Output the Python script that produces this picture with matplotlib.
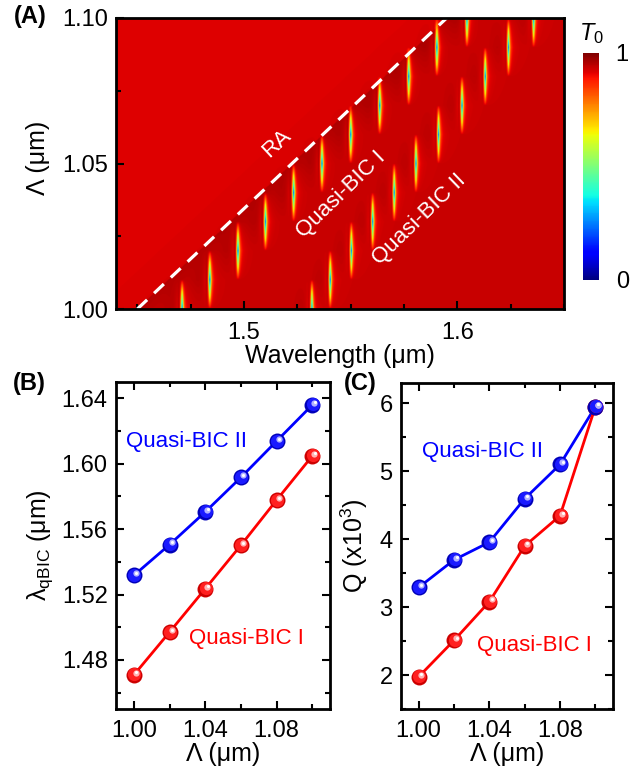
import numpy as np
import matplotlib
matplotlib.use("Agg")
import matplotlib.pyplot as plt
from matplotlib.ticker import MultipleLocator, FormatStrFormatter
from matplotlib.transforms import offset_copy

plt.rcParams['font.family'] = ['Liberation Sans', 'DejaVu Sans']
plt.rcParams['mathtext.fontset'] = 'custom'
plt.rcParams['mathtext.rm'] = 'Liberation Sans'
plt.rcParams['mathtext.it'] = 'Liberation Sans:italic'
plt.rcParams['mathtext.bf'] = 'Liberation Sans:bold'

# ---------------- data ----------------
# Panel A: resonance positions (one row per period)
map_period = [1.00, 1.01, 1.02, 1.03, 1.04, 1.05, 1.06, 1.07, 1.08, 1.09, 1.10]
map_qbic1 = [1.4708, 1.4838, 1.4970, 1.5099, 1.5231, 1.5364, 1.5499, 1.5635, 1.5771, 1.5903, 1.6044]
map_qbic2 = [1.5317, 1.5403, 1.5502, 1.5602, 1.5703, 1.5805, 1.5911, 1.6021, 1.6130, 1.6239, 1.6357]
ra_index = 1.45            # Rayleigh anomaly: lambda = n * period
ra_period = [1.00, 1.10]

# Panel B / C
period = [1.00, 1.02, 1.04, 1.06, 1.08, 1.10]
lam_qbic1 = [1.4708, 1.4970, 1.5235, 1.5501, 1.5777, 1.6047]
lam_qbic2 = [1.5317, 1.5505, 1.5705, 1.5916, 1.6138, 1.6359]
Q_qbic1 = [1.975, 2.51, 3.08, 3.90, 4.345, 5.95]
Q_qbic2 = [3.29, 3.695, 3.956, 4.596, 5.10, 5.95]

W, H = 639, 773
fig = plt.figure(figsize=(W / 100, H / 100), dpi=100)

def box(l, r, t, b):
    return [l / W, 1 - b / H, (r - l) / W, (b - t) / H]

# ---------------- Panel A: transmission map ----------------
axA = fig.add_axes(box(116, 564, 18, 309))
lam = np.linspace(1.44, 1.65, 1500)
per = np.linspace(1.00, 1.10, 481)
L, P = np.meshgrid(lam, per)

# background with Rayleigh anomaly shading
d = L - ra_index * P
bg = np.where(d < 0, 0.915 + 0.008 * np.exp(d / 0.02),
              0.935 + 0.02 * np.exp(-d / 0.012))

rows = np.array(map_period)
step = rows[1] - rows[0]

def res_rows(centers, gamma, depth):
    mods = []
    for c in centers:
        e = (lam - c) / gamma
        m = -depth / (1 + (e - 0.3) ** 2)
        m = m + 0.09 * np.exp(-((e + 2.2) / 1.3) ** 2)
        m = m + 0.018 * np.exp(-((lam - c + 0.004) / 0.004) ** 2)
        mods.append(m)
    return np.array(mods)

dm = res_rows(map_qbic1, 0.0005, 0.8) + res_rows(map_qbic2, 0.00045, 0.8)
# linear interpolation between rows (like the coarse-period simulation map)
pos = (per - rows[0]) / step
i0 = np.clip(np.floor(pos).astype(int), 0, len(rows) - 2)
w = pos - i0
M = 1 + (1 - w)[:, None] * dm[i0] + w[:, None] * dm[i0 + 1]
T = np.clip(bg * M, 0, 1)

im = axA.imshow(T, extent=[1.44, 1.65, 1.00, 1.10], origin='lower', aspect='auto',
                cmap='jet', vmin=0, vmax=1, interpolation='bilinear')
ra_lam = [ra_index * p for p in ra_period]
axA.plot(ra_lam, ra_period, color='white', lw=2.3, dashes=(4.2, 3.0))
axA.set_xlim(1.44, 1.65)
axA.set_ylim(1.00, 1.10)
axA.xaxis.set_major_locator(MultipleLocator(0.1))
axA.xaxis.set_minor_locator(MultipleLocator(0.025))
axA.yaxis.set_major_locator(MultipleLocator(0.05))
axA.yaxis.set_minor_locator(MultipleLocator(0.025))
axA.xaxis.set_major_formatter(FormatStrFormatter('%.1f'))
axA.yaxis.set_major_formatter(FormatStrFormatter('%.2f'))
axA.tick_params(which='both', direction='in', labelsize=17, width=1.5, top=False, right=False)
axA.tick_params(which='major', length=6, pad=6)
axA.tick_params(axis='x', which='major', pad=9.5)
axA.tick_params(which='minor', length=3.5)
for s in axA.spines.values():
    s.set_linewidth(2.0)
axA.set_xlabel('Wavelength (μm)', fontsize=18)
axA.set_ylabel('Λ (μm)', fontsize=18)
axA.xaxis.set_label_coords(0.5, -0.12)
axA.yaxis.set_label_coords(-0.147, 0.52)
axA.text(1.5155, 1.057, 'RA', color='white', fontsize=16, rotation=43,
         ha='center', va='center', rotation_mode='anchor')
axA.text(1.5457, 1.0392, 'Quasi-BIC I', color='white', fontsize=16, rotation=44,
         ha='center', va='center', rotation_mode='anchor')
axA.text(1.582, 1.0309, 'Quasi-BIC II', color='white', fontsize=16, rotation=44,
         ha='center', va='center', rotation_mode='anchor')

# colorbar
cax = fig.add_axes(box(583, 599, 53, 280))
cb = fig.colorbar(im, cax=cax, ticks=[0, 1])
cb.outline.set_visible(False)
cb.ax.set_yticklabels(['0', '1'])
cax.tick_params(length=0, labelsize=17, pad=12)
fig.text(591 / W, 1 - 34 / H, r'$T_0$', fontsize=17, ha='center', va='center')

# ---------------- helper for shaded balls ----------------
def balls(ax, x, y, dark, main, light):
    ax.plot(x, y, 'o', ms=11.5, color=dark, mec='none', zorder=3)
    tr1 = offset_copy(ax.transData, fig=fig, x=0.6, y=0.6, units='dots')
    ax.plot(x, y, 'o', ms=9.5, color=main, mec='none', zorder=4, transform=tr1)
    tr2 = offset_copy(ax.transData, fig=fig, x=2.2, y=2.2, units='dots')
    ax.plot(x, y, 'o', ms=4.5, color=light, mec='none', zorder=5, transform=tr2)
    tr3 = offset_copy(ax.transData, fig=fig, x=2.6, y=2.6, units='dots')
    ax.plot(x, y, 'o', ms=2.2, color='white', mec='none', zorder=6, transform=tr3)

def style(ax):
    ax.tick_params(which='both', direction='in', labelsize=17, width=1.5,
                   top=True, right=True)
    ax.tick_params(which='major', length=6, pad=6)
    ax.tick_params(axis='x', which='major', pad=8)
    ax.tick_params(which='minor', length=3.5)
    for s in ax.spines.values():
        s.set_linewidth(2.0)
    ax.set_xlim(0.99, 1.11)
    ax.xaxis.set_major_locator(MultipleLocator(0.04))
    ax.xaxis.set_minor_locator(MultipleLocator(0.02))
    ax.xaxis.set_major_formatter(FormatStrFormatter('%.2f'))
    ax.set_xlabel('Λ (μm)', fontsize=18)
    ax.xaxis.set_label_coords(0.5, -0.101)

blue_d, blue, blue_l = (0.0, 0.0, 0.72), (0.1, 0.1, 1.0), (0.7, 0.7, 1.0)
red_d, red, red_l = (0.8, 0.0, 0.0), (1.0, 0.12, 0.12), (1.0, 0.7, 0.7)

# ---------------- Panel B ----------------
axB = fig.add_axes(box(116, 330, 382, 709))
axB.plot(period, lam_qbic2, color=(0, 0, 1), lw=2, zorder=2)
axB.plot(period, lam_qbic1, color=(1, 0, 0), lw=2, zorder=2)
balls(axB, period, lam_qbic2, blue_d, blue, blue_l)
balls(axB, period, lam_qbic1, red_d, red, red_l)
style(axB)
axB.set_ylim(1.45, 1.65)
axB.yaxis.set_major_locator(MultipleLocator(0.04))
axB.yaxis.set_minor_locator(MultipleLocator(0.02))
axB.yaxis.set_major_formatter(FormatStrFormatter('%.2f'))
axB.set_ylabel(r'λ$_{\mathrm{qBIC}}$ (μm)', fontsize=18)
axB.yaxis.set_label_coords(-0.285, 0.5)
axB.text(0.9955, 1.6135, 'Quasi-BIC II', color=(0, 0, 1), fontsize=16, ha='left', va='center')
axB.text(1.031, 1.4931, 'Quasi-BIC I', color=(1, 0, 0), fontsize=16, ha='left', va='center')

# ---------------- Panel C ----------------
axC = fig.add_axes(box(401, 613, 383, 709))
axC.plot(period, Q_qbic2, color=(0, 0, 1), lw=2, zorder=2)
axC.plot(period, Q_qbic1, color=(1, 0, 0), lw=2, zorder=2)
balls(axC, period, Q_qbic1, red_d, red, red_l)
balls(axC, period, Q_qbic2, blue_d, blue, blue_l)
style(axC)
axC.set_ylim(1.5, 6.3)
axC.yaxis.set_major_locator(MultipleLocator(1))
axC.yaxis.set_minor_locator(MultipleLocator(0.5))
axC.yaxis.set_major_formatter(FormatStrFormatter('%d'))
axC.set_ylabel(r'Q (x10$^3$)', fontsize=18)
axC.yaxis.set_label_coords(-0.145, 0.5)
axC.text(1.0019, 5.285, 'Quasi-BIC II', color=(0, 0, 1), fontsize=16, ha='left', va='center')
axC.text(1.0329, 2.428, 'Quasi-BIC I', color=(1, 0, 0), fontsize=16, ha='left', va='center')

# panel labels
fig.text(30 / W, 1 - 17 / H, '(A)', fontsize=17, fontweight='bold', ha='center', va='center')
fig.text(29 / W, 1 - 384 / H, '(B)', fontsize=17, fontweight='bold', ha='center', va='center')
fig.text(360 / W, 1 - 384 / H, '(C)', fontsize=17, fontweight='bold', ha='center', va='center')

fig.savefig('out.png', dpi=100)
